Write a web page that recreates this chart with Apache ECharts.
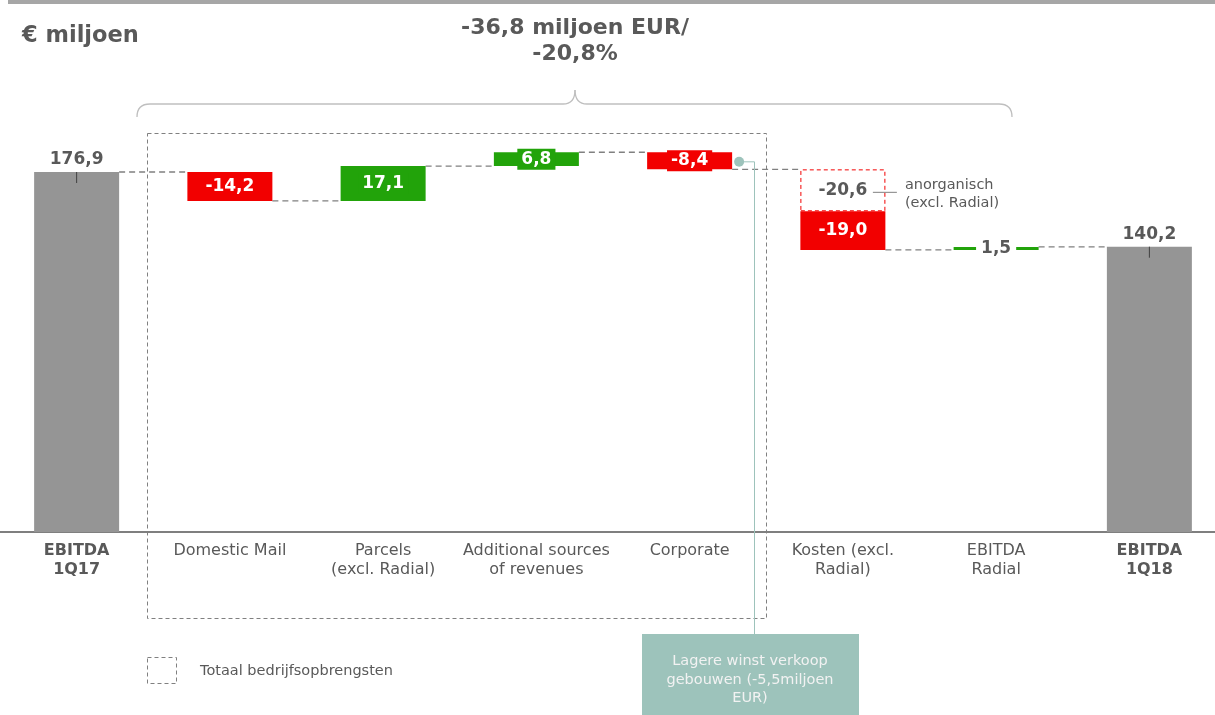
<!DOCTYPE html>
<html>
<head>
<meta charset="utf-8">
<script src="https://cdn.jsdelivr.net/npm/echarts@6/dist/echarts.min.js"></script>
<style>
  html, body { margin: 0; padding: 0; background: #fff; }
  #chart { width: 1215px; height: 715px; }
</style>
</head>
<body>
<div id="chart"></div>
<script>
// waterfall EBITDA 1Q17 -> 1Q18
const categories = [
  'EBITDA\n1Q17',
  'Domestic Mail',
  'Parcels\n(excl. Radial)',
  'Additional sources\nof revenues',
  'Corporate',
  'Kosten (excl.\nRadial)',
  'EBITDA\nRadial',
  'EBITDA\n1Q18'
]
const totals = [176.9, null, null, null, null, null, null, 140.2]
const deltas = [null, -14.2, 17.1, 6.8, -8.4, -19.0, 1.5, null]
const inorganic = [null, null, null, null, null, -20.6, null, null]

const GREY = '#959595'
const RED = '#f20000'
const GREEN = '#22a30a'
const TEXT = '#595959'
const FONT = 'DejaVu Sans'
const BAR_W = 85

const fmt = v => v.toFixed(1).replace('.', ',')
const r1 = v => Math.round(v * 10) / 10

// build stacked pieces
const baseData = []
const solidData = []
const dashData = []
const levels = [] // level after each category
let level = 0
categories.forEach((c, i) => {
  if (totals[i] !== null) {
    level = totals[i]
    baseData.push(0)
    solidData.push({
      value: totals[i],
      itemStyle: { color: GREY },
      label: {
        show: true,
        position: 'top',
        distance: 4,
        color: TEXT,
        fontFamily: FONT,
        fontWeight: 'bold',
        fontSize: 17,
        formatter: () => fmt(totals[i])
      }
    })
    dashData.push('-')
  } else {
    const inorg = inorganic[i] || 0
    const d = deltas[i]
    const after = r1(level + inorg + d)
    const lo = Math.min(level, after)
    const small = Math.abs(d) < 3
    baseData.push(lo)
    solidData.push({
      value: Math.abs(d),
      itemStyle: { color: d < 0 ? RED : GREEN },
      label: {
        show: true,
        position: 'inside',
        color: small ? TEXT : '#fff',
        backgroundColor: small ? '#fff' : (d < 0 ? RED : GREEN),
        padding: small ? [2, 5] : [2, 4],
        fontFamily: FONT,
        fontWeight: 'bold',
        fontSize: 17,
        formatter: () => fmt(d)
      }
    })
    dashData.push(inorg ? Math.abs(inorg) : '-')
    level = after
  }
  levels.push(level)
})

// connector segments: [from category, level]
const connectors = levels.slice(0, -1).map((v, i) => [i, v])

const chart = echarts.init(document.getElementById('chart'))

chart.setOption({
  animation: false,
  grid: { left: 0, width: 1226, top: 125, bottom: 183, outerBoundsMode: 'none', containLabel: false },
  xAxis: {
    type: 'category',
    data: categories,
    axisTick: { show: false },
    axisLine: { lineStyle: { color: '#7f7f7f', width: 2 } },
    axisLabel: {
      interval: 0,
      margin: 9,
      color: TEXT,
      fontFamily: FONT,
      fontSize: 16,
      lineHeight: 19,
      formatter: (v, i) =>
        i === 0 || i === categories.length - 1
          ? v.split('\n').map(s => '{b|' + s + '}').join('\n')
          : v,
      rich: {
        b: { fontWeight: 'bold', fontSize: 16, lineHeight: 19, color: TEXT, fontFamily: FONT }
      }
    }
  },
  yAxis: { type: 'value', min: 0, max: 200, show: false },
  series: [
    {
      name: 'connectors',
      type: 'custom',
      silent: true,
      z: 1,
      data: connectors,
      renderItem: (params, api) => {
        const i = api.value(0)
        const a = api.coord([i, api.value(1)])
        const b = api.coord([i + 1, api.value(1)])
        return {
          type: 'line',
          shape: { x1: a[0] + BAR_W / 2, y1: a[1], x2: b[0] - BAR_W / 2, y2: b[1] },
          style: { stroke: '#808080', lineWidth: 1.3, lineDash: [6, 4] }
        }
      }
    },
    {
      name: 'base',
      type: 'bar',
      stack: 'w',
      barWidth: BAR_W,
      itemStyle: { color: 'transparent' },
      data: baseData
    },
    {
      name: 'delta',
      type: 'bar',
      stack: 'w',
      barWidth: BAR_W,
      data: solidData
    },
    {
      name: 'anorganisch',
      type: 'bar',
      stack: 'w',
      barWidth: BAR_W,
      itemStyle: { color: '#fff', borderColor: RED, borderWidth: 1, borderType: [4, 3] },
      label: {
        show: true,
        position: 'inside',
        color: TEXT,
        fontFamily: FONT,
        fontWeight: 'bold',
        fontSize: 17,
        formatter: p => fmt(inorganic[p.dataIndex])
      },
      data: dashData
    }
  ]
})

// annotations, placed from the axis scales
const px = (i, v) => chart.convertToPixel({ xAxisIndex: 0, yAxisIndex: 0 }, [i, v])
const graphics = []
const SMALL = '14.5px "DejaVu Sans"'

// thin top rule
graphics.push({ type: 'rect', shape: { x: 8, y: 0, width: 1207, height: 4 }, style: { fill: '#a6a6a6' } })

graphics.push({
  type: 'text', x: 22, y: 36,
  style: { text: '€ miljoen', fill: TEXT, font: 'bold 22.5px "DejaVu Sans"', verticalAlign: 'middle' }
})
graphics.push({
  type: 'text', x: 575, y: 15,
  style: {
    text: '-36,8 miljoen EUR/\n-20,8%', fill: TEXT, align: 'center',
    font: 'bold 22px "DejaVu Sans"', lineHeight: 26
  }
})

// brace
const braceStyle = { stroke: '#bfbfbf', lineWidth: 1.3, fill: 'none' }
graphics.push(
  { type: 'bezierCurve', shape: { x1: 137, y1: 117, cpx1: 137, cpy1: 104, x2: 150, y2: 104 }, style: braceStyle },
  { type: 'line', shape: { x1: 150, y1: 104, x2: 563, y2: 104 }, style: braceStyle },
  { type: 'bezierCurve', shape: { x1: 563, y1: 104, cpx1: 575, cpy1: 104, x2: 575, y2: 90 }, style: braceStyle },
  { type: 'bezierCurve', shape: { x1: 575, y1: 90, cpx1: 575, cpy1: 104, x2: 587, y2: 104 }, style: braceStyle },
  { type: 'line', shape: { x1: 587, y1: 104, x2: 999, y2: 104 }, style: braceStyle },
  { type: 'bezierCurve', shape: { x1: 999, y1: 104, cpx1: 1012, cpy1: 104, x2: 1012, y2: 117 }, style: braceStyle }
)

// dashed group box + legend
graphics.push({
  type: 'rect', shape: { x: 147.5, y: 133.5, width: 619, height: 485 },
  style: { fill: 'none', stroke: '#808080', lineWidth: 1, lineDash: [4, 3] }
})
graphics.push({
  type: 'rect', shape: { x: 147.5, y: 657.5, width: 29, height: 26 },
  style: { fill: 'none', stroke: '#808080', lineWidth: 1, lineDash: [4, 3] }
})
graphics.push({
  type: 'text', x: 200, y: 671,
  style: { text: 'Totaal bedrijfsopbrengsten', fill: TEXT, font: SMALL, verticalAlign: 'middle' }
})

// ticks under total labels
totals.forEach((t, i) => {
  if (t === null) return
  const p = px(i, t)
  graphics.push({
    type: 'line', z: 20, shape: { x1: p[0], y1: p[1], x2: p[0], y2: p[1] + 11 },
    style: { stroke: '#404040', lineWidth: 1 }
  })
})

// inorganic note
const kIdx = inorganic.findIndex(v => v !== null)
const kTop = levels[kIdx - 1]
const kMid = px(kIdx, kTop + inorganic[kIdx] / 2)
graphics.push({
  type: 'line', z: 20, shape: { x1: kMid[0] + 30, y1: kMid[1] + 2, x2: kMid[0] + 54, y2: kMid[1] + 2 },
  style: { stroke: '#808080', lineWidth: 1 }
})
graphics.push({
  type: 'text', x: kMid[0] + 62, y: kMid[1] + 4,
  style: {
    text: 'anorganisch\n(excl. Radial)', fill: TEXT, font: SMALL,
    lineHeight: 18, verticalAlign: 'middle'
  }
})

// callout on Corporate
const cIdx = 4
const cMid = px(cIdx, (levels[cIdx - 1] + levels[cIdx]) / 2)
const dotX = cMid[0] + BAR_W / 2 + 7
const TEAL = '#9dc3bb'
graphics.push({
  type: 'polyline', z: 20,
  shape: { points: [[dotX, cMid[1] + 1], [754.5, cMid[1] + 1], [754.5, 634]] },
  style: { stroke: TEAL, lineWidth: 1, fill: 'none' }
})
graphics.push({ type: 'circle', z: 20, shape: { cx: dotX, cy: cMid[1] + 1, r: 5 }, style: { fill: TEAL } })
graphics.push({ type: 'rect', shape: { x: 642, y: 634, width: 217, height: 81 }, style: { fill: TEAL } })
graphics.push({
  type: 'text', x: 750, y: 680,
  style: {
    text: 'Lagere winst verkoop\ngebouwen (-5,5miljoen\nEUR)', fill: '#f2f2f2', align: 'center',
    verticalAlign: 'middle', font: SMALL, lineHeight: 18.5
  }
})

chart.setOption({ graphic: graphics })
</script>
</body>
</html>
